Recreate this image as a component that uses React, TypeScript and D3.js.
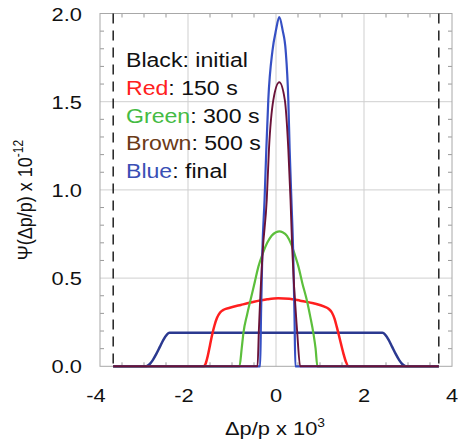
import React from "react";
import * as d3 from "d3";

// ---- data ----
const initialX = [-3.7, -2.95, -2.88, -2.8, -2.72, -2.64, -2.56, -2.48, -2.42, -2.38, 2.38, 2.42, 2.48, 2.56, 2.64, 2.72, 2.8, 2.88, 2.95, 3.7];
const initialY = [0, 0, 0.01, 0.035, 0.07, 0.11, 0.15, 0.18, 0.19, 0.19, 0.19, 0.19, 0.18, 0.15, 0.11, 0.07, 0.035, 0.01, 0, 0];

const redX = [-3.7, -1.64, -1.6, -1.55, -1.5, -1.45, -1.4, -1.34, -1.27, -1.18, -1.05, -0.8, -0.5, -0.2, 0.05, 0.3, 0.55, 0.85, 1.1, 1.2, 1.27, 1.33, 1.38, 1.45, 1.53, 1.59, 1.65, 3.7];
const redY = [0, 0, 0.015, 0.06, 0.12, 0.18, 0.23, 0.275, 0.305, 0.322, 0.332, 0.348, 0.366, 0.38, 0.386, 0.383, 0.372, 0.357, 0.338, 0.325, 0.305, 0.27, 0.225, 0.155, 0.075, 0.025, 0, 0];

const greenX = [-3.7, -0.83, -0.78, -0.74, -0.66, -0.575, -0.48, -0.4, -0.3, -0.2, -0.1, 0.0, 0.08, 0.15, 0.25, 0.35, 0.43, 0.51, 0.6, 0.7, 0.78, 0.85, 0.9, 0.94, 3.7];
const greenY = [0, 0, 0.1, 0.19, 0.29, 0.38, 0.48, 0.565, 0.64, 0.7, 0.74, 0.76, 0.765, 0.76, 0.74, 0.69, 0.63, 0.565, 0.47, 0.376, 0.28, 0.187, 0.1, 0, 0];

const blueX = [-3.7, -0.36, -0.34, -0.31, -0.26, -0.22, -0.175, -0.08, 0.0, 0.075, 0.15, 0.22, 0.28, 0.31, 0.35, 0.39, 0.42, 0.44, 3.7];
const blueY = [0, 0, 0.3, 0.65, 0.944, 1.23, 1.51, 1.79, 1.906, 1.98, 1.906, 1.79, 1.51, 1.23, 0.944, 0.65, 0.3, 0, 0];

const brownX = [-3.7, -0.42, -0.39, -0.3, -0.21, -0.16, -0.06, 0.075, 0.2, 0.28, 0.33, 0.37, 0.48, 0.55, 3.7];
const brownY = [0, 0, 0.2, 0.66, 0.944, 1.23, 1.51, 1.61, 1.51, 1.23, 0.944, 0.66, 0.2, 0, 0];

const xTicks = [-4, -2, 0, 2, 4];
const yTicks = [0, 0.5, 1.0, 1.5, 2.0];
const xGrid = [-2, 0, 2];
const yGrid = [0.5, 1.0, 1.5];
const dashedX = [-3.7, 3.7];

const legendNames = ["Black", "Red", "Green", "Brown", "Blue"];
const legendLabels = [": initial", ": 150 s", ": 300 s", ": 500 s", ": final"];
const legendColors = ["#111111", "#ff2020", "#44bb44", "#6b3a17", "#3a4fb5"];

const FONT = "'Liberation Sans', Arial, Helvetica, sans-serif";

export default function App() {
  const x = d3.scaleLinear().domain([-4, 4]).range([100, 452]);
  const y = d3.scaleLinear().domain([0, 2]).range([366.3, 13.5]);

  const line = d3
    .line<[number, number]>()
    .x((d) => x(d[0]))
    .y((d) => y(d[1]))
    .curve(d3.curveMonotoneX);

  const zip = (xs: number[], ys: number[]) => xs.map((v, i) => [v, ys[i]] as [number, number]);

  const series = [
    { pts: zip(initialX, initialY), color: "#2b3990", w: 2.5 },
    { pts: zip(redX, redY), color: "#ff1f1f", w: 2.5 },
    { pts: zip(greenX, greenY), color: "#5cbf3c", w: 2.2 },
    { pts: zip(blueX, blueY), color: "#3650c4", w: 2.2 },
    { pts: zip(brownX, brownY), color: "#6a1238", w: 1.9 },
  ];

  const [x0, x1] = x.range();
  const [yb, yt] = y.range();

  const xMinor = d3.range(-3.5, 4, 0.5).filter((v) => Math.abs(v % 2) > 1e-6);
  const yMinor = d3.range(1, 20).map((i) => i / 10).filter((v) => Math.abs((v * 10) % 5) > 1e-6);

  const sx = 1.15;

  return (
    <svg
      width={458}
      height={443}
      style={{ position: "absolute", left: 0, top: 0, background: "#fff" }}
      fontFamily={FONT}
    >
      <rect x={0} y={0} width={458} height={443} fill="#fff" />
      {/* grid */}
      {xGrid.map((v) => (
        <line key={"gx" + v} x1={x(v)} x2={x(v)} y1={yb} y2={yt} stroke="#cfcfcf" strokeWidth={1} />
      ))}
      {yGrid.map((v) => (
        <line key={"gy" + v} x1={x0} x2={x1} y1={y(v)} y2={y(v)} stroke="#cfcfcf" strokeWidth={1} />
      ))}
      {/* minor ticks */}
      {xMinor.map((v) => (
        <g key={"mx" + v}>
          <line x1={x(v)} x2={x(v)} y1={yb} y2={yb - 4} stroke="#999" strokeWidth={1} />
          <line x1={x(v)} x2={x(v)} y1={yt} y2={yt + 4} stroke="#999" strokeWidth={1} />
        </g>
      ))}
      {yMinor.map((v) => (
        <g key={"my" + v}>
          <line x1={x0} x2={x0 + 4} y1={y(v)} y2={y(v)} stroke="#999" strokeWidth={1} />
          <line x1={x1} x2={x1 - 4} y1={y(v)} y2={y(v)} stroke="#999" strokeWidth={1} />
        </g>
      ))}
      {/* frame */}
      <rect x={x0} y={yt} width={x1 - x0} height={yb - yt} fill="none" stroke="#a8a8a8" strokeWidth={1} />
      {/* dashed verticals */}
      {dashedX.map((v) => (
        <line key={"d" + v} x1={x(v)} x2={x(v)} y1={yt} y2={yb} stroke="#222" strokeWidth={1.5} strokeDasharray="10,7" />
      ))}
      {/* curves */}
      {series.map((s, i) => (
        <path key={"s" + i} d={line(s.pts) || ""} fill="none" stroke={s.color} strokeWidth={s.w} strokeLinejoin="round" />
      ))}
      {/* y tick labels */}
      {yTicks.map((v) => (
        <text
          key={"yt" + v}
          transform={`translate(82,${y(v) + 7}) scale(${sx},1)`}
          textAnchor="end"
          fontSize={19}
          fill="#111"
        >
          {v.toFixed(1)}
        </text>
      ))}
      {/* x tick labels */}
      {xTicks.map((v) => (
        <text
          key={"xt" + v}
          transform={`translate(${x(v) - (v < 0 ? 4 : 0)},401.5) scale(${sx},1)`}
          textAnchor="middle"
          fontSize={19}
          fill="#111"
        >
          {String(v)}
        </text>
      ))}
      {/* x title */}
      <text transform={`translate(275,435) scale(${sx},1)`} textAnchor="middle" fontSize={19} fill="#111">
        Δp/p x 10
        <tspan fontSize={12} dy={-8}>3</tspan>
      </text>
      {/* y title */}
      <text transform={`translate(32,200) scale(${sx},1) rotate(-90)`} textAnchor="middle" fontSize={18} fill="#111">
        Ψ(Δp/p) x 10
        <tspan fontSize={12} dy={-8}>-12</tspan>
      </text>
      {/* legend */}
      {legendNames.map((n, i) => (
        <text
          key={"lg" + n}
          transform={`translate(126,${66.7 + i * 27.9}) scale(1.1,1)`}
          fontSize={21}
          fill="#111"
        >
          <tspan fill={legendColors[i]}>{n}</tspan>
          <tspan>{legendLabels[i]}</tspan>
        </text>
      ))}
    </svg>
  );
}
